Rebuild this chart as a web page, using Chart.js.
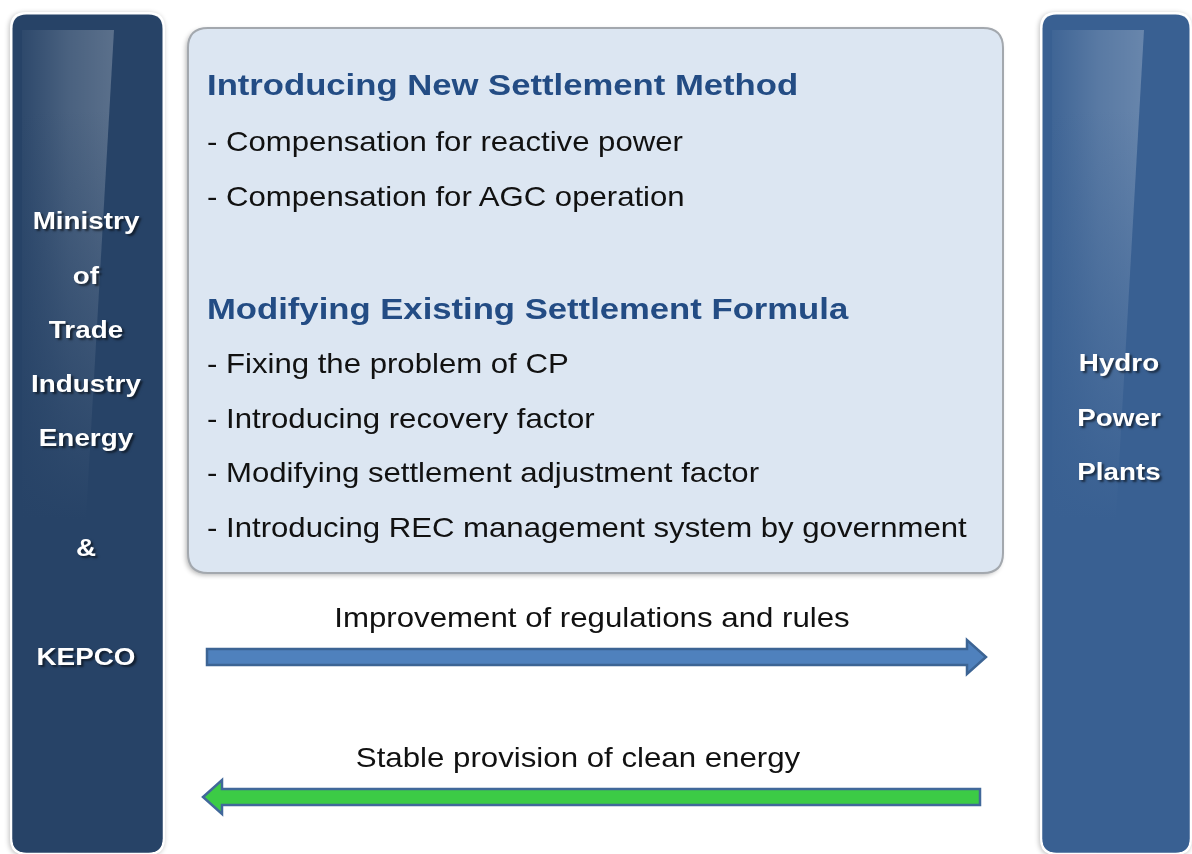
<!DOCTYPE html>
<html><head><meta charset="utf-8">
<script src="https://cdn.jsdelivr.net/npm/chart.js@4.4.0/dist/chart.umd.min.js"></script>
<style>
html,body{margin:0;padding:0;background:#fff;}
#wrap{position:relative;width:1192px;height:854px;overflow:hidden;font-family:"Liberation Sans",Arial,sans-serif;}
canvas{position:absolute;left:0;top:0;}
.t{position:absolute;white-space:nowrap;line-height:1;}
.side{color:#fff;font-weight:bold;font-size:24px;transform:translate(-50%,-50%) scaleX(1.16);text-shadow:2px 2px 2px rgba(0,0,0,0.55);}
.head{color:#234c84;font-weight:bold;font-size:29px;transform-origin:0 50%;transform:translateY(-50%) scaleX(1.195);}
.item{color:#111;font-size:28px;transform-origin:0 50%;transform:translateY(-50%) scaleX(1.112);}
.alab{color:#111;font-size:28px;transform:translate(-50%,-50%) scaleX(1.115);}
</style></head>
<body><div id="wrap"><canvas id="c" width="1192" height="854"></canvas></div>
<script>
// ---- content ----
const leftLabels = ['Ministry', 'of', 'Trade', 'Industry', 'Energy', '&', 'KEPCO'];
const rightLabels = ['Hydro', 'Power', 'Plants'];
const headings = ['Introducing New Settlement Method', 'Modifying Existing Settlement Formula'];
const newMethodItems = ['Compensation for reactive power', 'Compensation for AGC operation'];
const modifyItems = ['Fixing the problem of CP', 'Introducing recovery  factor', 'Modifying settlement adjustment factor', 'Introducing REC management system by government'];
const arrowLabels = ['Improvement of regulations and rules', 'Stable provision of clean energy'];
const arrowDirections = ['right', 'left'];

// ---- layout (diagram coordinates in px) ----
const leftRows = [221, 276, 330, 384, 438, 548, 657];
const rightRows = [363, 418, 472];
const wrap = document.getElementById('wrap');
function addText(cls, txt, x, y) {
  const d = document.createElement('div');
  d.className = 't ' + cls; d.textContent = txt;
  d.style.left = x + 'px'; d.style.top = y + 'px';
  wrap.appendChild(d);
}
leftLabels.forEach((s, i) => addText('side', s, 86, leftRows[i]));
rightLabels.forEach((s, i) => addText('side', s, 1119, rightRows[i]));
addText('head', headings[0], 207, 85);
newMethodItems.forEach((s, i) => addText('item', '- ' + s, 207, 142 + i * 55));
addText('head', headings[1], 207, 309);
modifyItems.forEach((s, i) => addText('item', '- ' + s, 207, 364 + i * 54.7));
addText('alab', arrowLabels[0], 592, 618);
addText('alab', arrowLabels[1], 578, 758);

function rr(ctx, x, y, w, h, r) {
  ctx.beginPath();
  ctx.moveTo(x + r, y); ctx.lineTo(x + w - r, y); ctx.quadraticCurveTo(x + w, y, x + w, y + r);
  ctx.lineTo(x + w, y + h - r); ctx.quadraticCurveTo(x + w, y + h, x + w - r, y + h);
  ctx.lineTo(x + r, y + h); ctx.quadraticCurveTo(x, y + h, x, y + h - r);
  ctx.lineTo(x, y + r); ctx.quadraticCurveTo(x, y, x + r, y); ctx.closePath();
}

const panelPlugin = {
  id: 'panels',
  beforeDatasetsDraw(chart) {
    const ctx = chart.ctx, X = chart.scales.x, Y = chart.scales.y;
    const px = v => X.getPixelForValue(v), py = v => Y.getPixelForValue(v);
    ctx.save();
    // side panels
    const sides = [{x0: 10, x1: 165, fill: '#274367'}, {x0: 1040, x1: 1192, fill: '#396092'}];
    sides.forEach(p => {
      const x = px(p.x0), y = py(12), w = px(p.x1) - x, h = py(855) - y;
      ctx.save();
      ctx.shadowColor = 'rgba(0,0,0,0.25)'; ctx.shadowBlur = 5; ctx.shadowOffsetX = -1; ctx.shadowOffsetY = 1;
      rr(ctx, x, y, w, h, 16); ctx.fillStyle = '#fff'; ctx.fill();
      ctx.restore();
      rr(ctx, x + 2.5, y + 2.5, w - 5, h - 5, 14); ctx.fillStyle = p.fill; ctx.fill();
      // gloss
      ctx.save();
      rr(ctx, x + 2.5, y + 2.5, w - 5, h - 5, 14); ctx.clip();
      const gx0 = x + 12, gx1 = x + 104;
      ctx.beginPath();
      ctx.moveTo(gx0, py(30)); ctx.lineTo(gx1, py(30)); ctx.lineTo(gx1 - 50, py(900)); ctx.lineTo(gx0, py(900)); ctx.closePath();
      const gh = ctx.createLinearGradient(gx0, 0, gx1, 0);
      gh.addColorStop(0, 'rgba(255,255,255,0.03)');
      gh.addColorStop(0.5, 'rgba(255,255,255,0.16)');
      gh.addColorStop(1, 'rgba(255,255,255,0.24)');
      ctx.fillStyle = gh; ctx.fill();
      ctx.restore();
      // fade gloss downward by overpainting panel colour
      ctx.save();
      rr(ctx, x + 2.5, y + 2.5, w - 5, h - 5, 14); ctx.clip();
      const gv = ctx.createLinearGradient(0, py(110), 0, py(520));
      gv.addColorStop(0, p.fill + '00');
      gv.addColorStop(1, p.fill + 'ff');
      ctx.fillStyle = gv; ctx.fillRect(x, py(110), w, py(900) - py(110));
      ctx.restore();
    });
    // central box
    const bx = px(188), by = py(28), bw = px(1003) - bx, bh = py(573) - by;
    ctx.save();
    ctx.shadowColor = 'rgba(0,0,0,0.3)'; ctx.shadowBlur = 5; ctx.shadowOffsetX = -2; ctx.shadowOffsetY = 2;
    rr(ctx, bx, by, bw, bh, 20); ctx.fillStyle = '#dce6f2'; ctx.fill();
    ctx.restore();
    rr(ctx, bx, by, bw, bh, 20); ctx.lineWidth = 2; ctx.strokeStyle = '#a3a8ae'; ctx.stroke();
    ctx.restore();
  },
  afterDatasetsDraw(chart) {
    const ctx = chart.ctx;
    chart.data.datasets.forEach((ds, i) => {
      const pts = chart.getDatasetMeta(i).data;
      const a = pts[0], b = pts[1];
      const y = a.y, dir = ds.dir;
      const sh = 8, hh = 17, hl = 19;
      ctx.save();
      ctx.beginPath();
      if (dir === 'right') {
        const x0 = a.x, x1 = b.x;
        ctx.moveTo(x0, y - sh); ctx.lineTo(x1 - hl, y - sh); ctx.lineTo(x1 - hl, y - hh); ctx.lineTo(x1, y);
        ctx.lineTo(x1 - hl, y + hh); ctx.lineTo(x1 - hl, y + sh); ctx.lineTo(x0, y + sh);
      } else {
        const x0 = a.x, x1 = b.x;
        ctx.moveTo(x1, y - sh); ctx.lineTo(x0 + hl, y - sh); ctx.lineTo(x0 + hl, y - hh); ctx.lineTo(x0, y);
        ctx.lineTo(x0 + hl, y + hh); ctx.lineTo(x0 + hl, y + sh); ctx.lineTo(x1, y + sh);
      }
      ctx.closePath();
      ctx.fillStyle = ds.fillColor; ctx.fill();
      ctx.lineWidth = 2.5; ctx.strokeStyle = ds.edgeColor; ctx.lineJoin = 'miter'; ctx.stroke();
      ctx.restore();
    });
  }
};

new Chart(document.getElementById('c'), {
  type: 'scatter',
  data: {
    datasets: [
      {label: arrowLabels[0], dir: arrowDirections[0], data: [{x: 207, y: 657}, {x: 986, y: 657}], fillColor: '#4f81bd', edgeColor: '#3c6494', pointRadius: 0, showLine: false},
      {label: arrowLabels[1], dir: arrowDirections[1], data: [{x: 203, y: 797}, {x: 980, y: 797}], fillColor: '#3ccb46', edgeColor: '#41689a', pointRadius: 0, showLine: false}
    ]
  },
  options: {
    responsive: false, animation: false, events: [],
    layout: {padding: 0},
    plugins: {legend: {display: false}, tooltip: {enabled: false}},
    scales: {
      x: {type: 'linear', min: 0, max: 1192, display: false},
      y: {type: 'linear', min: 0, max: 854, reverse: true, display: false}
    }
  },
  plugins: [panelPlugin]
});
</script>
</body></html>
